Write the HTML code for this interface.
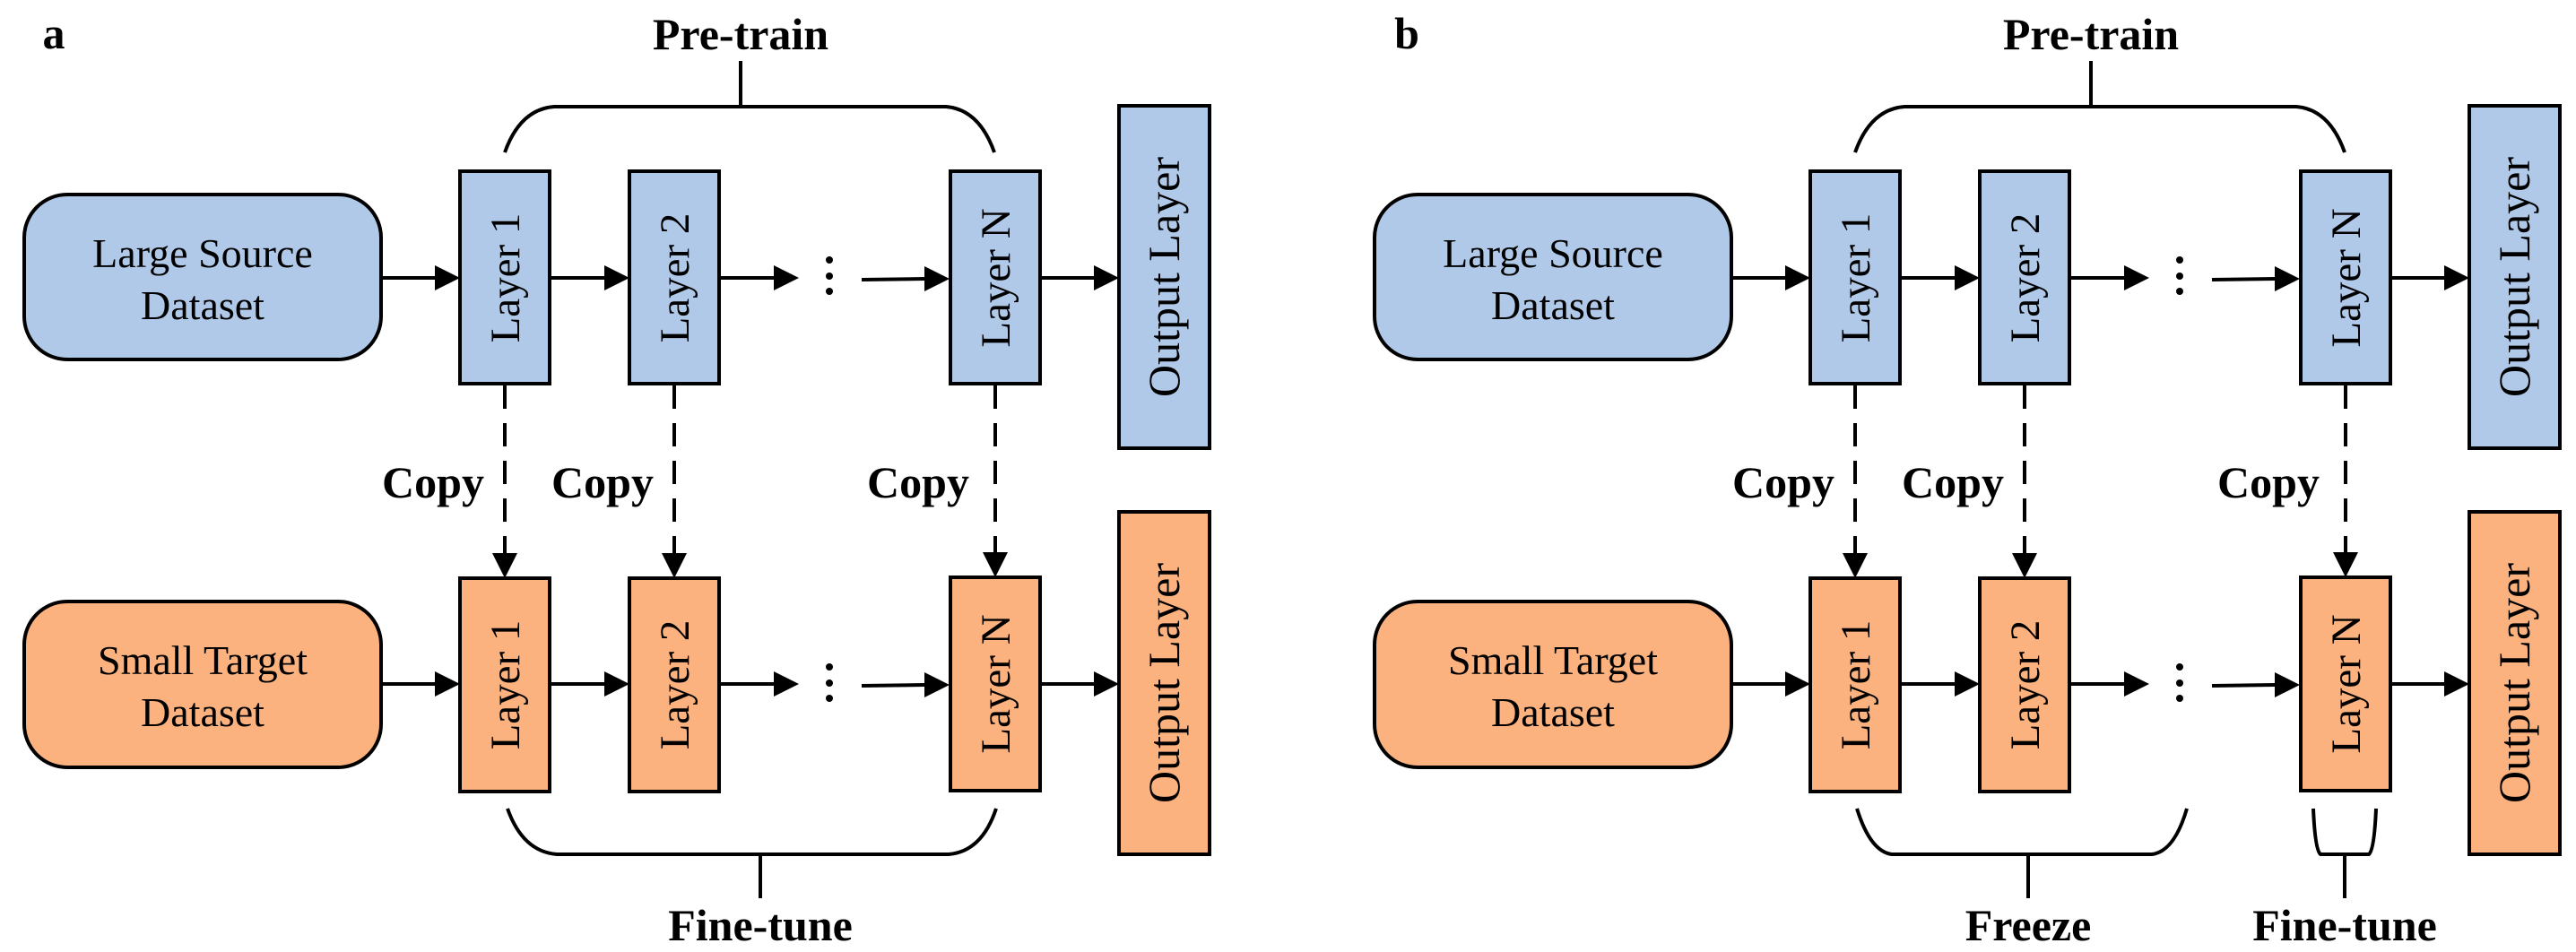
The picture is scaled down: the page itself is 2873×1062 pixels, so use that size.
<!DOCTYPE html>
<html><head><meta charset="utf-8"><style>
html,body{margin:0;padding:0;background:#fff}
svg{display:block}
text{font-family:"Liberation Serif",serif;fill:#000}
.b{font-weight:bold;font-size:50px}
.n{font-size:46px}
.l{font-size:47px}
.o{font-size:50px}
</style></head><body>
<svg width="2873" height="1062" viewBox="0 0 2873 1062" xmlns="http://www.w3.org/2000/svg">
<defs>
<g id="arrR"><polygon points="0,-14 28,0 0,14" fill="#000"/></g>
<g id="arrD"><polygon points="-14,0 14,0 0,28" fill="#000"/></g>
<g id="panel">
  <rect x="27" y="217" width="398" height="184" rx="48" fill="#B1C9E8" stroke="#000" stroke-width="4"/>
  <text class="n" x="226" y="298" text-anchor="middle">Large Source</text>
  <text class="n" x="226" y="356" text-anchor="middle">Dataset</text>
  <rect x="513" y="191" width="100" height="237" fill="#B1C9E8" stroke="#000" stroke-width="4"/>
  <rect x="702" y="191" width="100" height="237" fill="#B1C9E8" stroke="#000" stroke-width="4"/>
  <rect x="1060" y="191" width="100" height="237" fill="#B1C9E8" stroke="#000" stroke-width="4"/>
  <rect x="1248" y="118" width="101" height="382" fill="#B1C9E8" stroke="#000" stroke-width="4"/>
  <text class="l" transform="translate(563,310) rotate(-90)" text-anchor="middle" dy="16">Layer 1</text>
  <text class="l" transform="translate(752,310) rotate(-90)" text-anchor="middle" dy="16">Layer 2</text>
  <text class="l" transform="translate(1110,310) rotate(-90)" text-anchor="middle" dy="16">Layer N</text>
  <text class="o" transform="translate(1298,309) rotate(-90)" text-anchor="middle" dy="17">Output Layer</text>
  <g stroke="#000" stroke-width="4" fill="none">
    <line x1="425" y1="310" x2="487" y2="310"/>
    <line x1="613" y1="310" x2="676" y2="310"/>
    <line x1="802" y1="310" x2="865" y2="310"/>
    <line x1="961" y1="312" x2="1032" y2="311"/>
    <line x1="1160" y1="310" x2="1222" y2="310"/>
  </g>
  <use href="#arrR" x="485" y="310"/><use href="#arrR" x="674" y="310"/><use href="#arrR" x="863" y="310"/>
  <use href="#arrR" x="1031" y="311"/><use href="#arrR" x="1220" y="310"/>
  <circle cx="925" cy="290" r="4"/><circle cx="925" cy="308" r="4"/><circle cx="925" cy="325" r="4"/>
  <rect x="27" y="671" width="398" height="185" rx="48" fill="#FCB27F" stroke="#000" stroke-width="4"/>
  <text class="n" x="226" y="752" text-anchor="middle">Small Target</text>
  <text class="n" x="226" y="810" text-anchor="middle">Dataset</text>
  <rect x="513" y="645" width="100" height="238" fill="#FCB27F" stroke="#000" stroke-width="4"/>
  <rect x="702" y="645" width="100" height="238" fill="#FCB27F" stroke="#000" stroke-width="4"/>
  <rect x="1060" y="644" width="100" height="238" fill="#FCB27F" stroke="#000" stroke-width="4"/>
  <rect x="1248" y="571" width="101" height="382" fill="#FCB27F" stroke="#000" stroke-width="4"/>
  <text class="l" transform="translate(563,764) rotate(-90)" text-anchor="middle" dy="16">Layer 1</text>
  <text class="l" transform="translate(752,764) rotate(-90)" text-anchor="middle" dy="16">Layer 2</text>
  <text class="l" transform="translate(1110,763) rotate(-90)" text-anchor="middle" dy="16">Layer N</text>
  <text class="o" transform="translate(1298,762) rotate(-90)" text-anchor="middle" dy="17">Output Layer</text>
  <g stroke="#000" stroke-width="4" fill="none">
    <line x1="425" y1="763" x2="487" y2="763"/>
    <line x1="613" y1="763" x2="676" y2="763"/>
    <line x1="802" y1="763" x2="865" y2="763"/>
    <line x1="961" y1="765" x2="1032" y2="764"/>
    <line x1="1160" y1="763" x2="1222" y2="763"/>
  </g>
  <use href="#arrR" x="485" y="763"/><use href="#arrR" x="674" y="763"/><use href="#arrR" x="863" y="763"/>
  <use href="#arrR" x="1031" y="764"/><use href="#arrR" x="1220" y="763"/>
  <circle cx="925" cy="744" r="4"/><circle cx="925" cy="762" r="4"/><circle cx="925" cy="779" r="4"/>
  <g stroke="#000" stroke-width="4" stroke-dasharray="26,16">
    <line x1="563" y1="430" x2="563" y2="618"/>
    <line x1="752" y1="430" x2="752" y2="618"/>
    <line x1="1110" y1="430" x2="1110" y2="617"/>
  </g>
  <use href="#arrD" x="563" y="617"/><use href="#arrD" x="752" y="617"/><use href="#arrD" x="1110" y="616"/>
  <text class="b" x="483" y="555" text-anchor="middle">Copy</text>
  <text class="b" x="672" y="555" text-anchor="middle">Copy</text>
  <text class="b" x="1024" y="555" text-anchor="middle">Copy</text>
  <path d="M563,170 Q580,122 618,119 L1055,119 Q1092,122 1109,170" stroke="#000" stroke-width="4" fill="none"/>
  <line x1="826" y1="68" x2="826" y2="119" stroke="#000" stroke-width="4"/>
  <text class="b" x="826" y="55" text-anchor="middle">Pre-train</text>
</g>
</defs>
<text class="b" x="60" y="54" text-anchor="middle">a</text>
<text class="b" x="1569" y="54" text-anchor="middle">b</text>
<use href="#panel"/>
<use href="#panel" x="1506"/>
<path d="M566,902 Q583,950 621,953 L1058,953 Q1095,950 1111,902" stroke="#000" stroke-width="4" fill="none"/>
<line x1="848" y1="953" x2="848" y2="1002" stroke="#000" stroke-width="4"/>
<text class="b" x="848" y="1049" text-anchor="middle">Fine-tune</text>
<path d="M2071,902 Q2086,950 2110,953 L2400,953 Q2425,950 2439,902" stroke="#000" stroke-width="4" fill="none"/>
<line x1="2262" y1="953" x2="2262" y2="1002" stroke="#000" stroke-width="4"/>
<text class="b" x="2262" y="1049" text-anchor="middle">Freeze</text>
<path d="M2580,902 Q2582,948 2588,953 L2642,953 Q2648,948 2650,902" stroke="#000" stroke-width="4" fill="none"/>
<line x1="2615" y1="953" x2="2615" y2="1002" stroke="#000" stroke-width="4"/>
<text class="b" x="2615" y="1049" text-anchor="middle">Fine-tune</text>
</svg>
</body></html>
